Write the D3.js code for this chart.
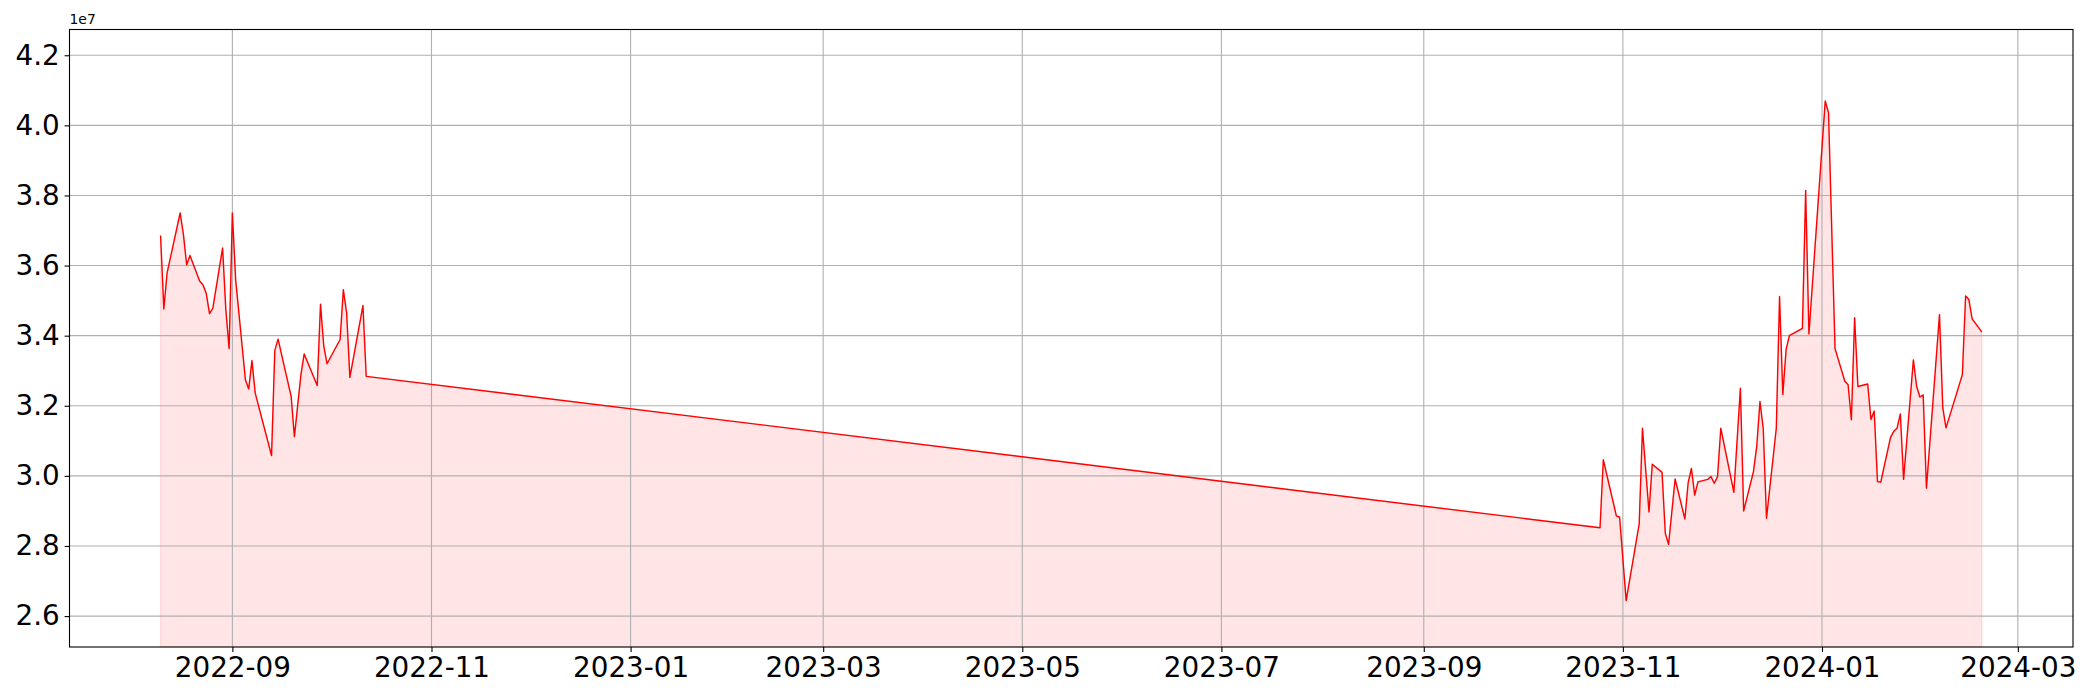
<!DOCTYPE html>
<html>
<head>
<meta charset="utf-8">
<script src="https://cdn.jsdelivr.net/npm/d3@7"></script>
<style>
  html, body { margin: 0; padding: 0; background: #fff; }
  svg { display: block; }
  text { font-family: "DejaVu Sans", sans-serif; fill: #000; }
</style>
</head>
<body>
<svg id="chart" width="2100" height="700"></svg>
<script>
// ---- data ----
const dates = [
  "2022-08-10","2022-08-11","2022-08-12","2022-08-16","2022-08-17","2022-08-18","2022-08-19",
  "2022-08-22","2022-08-23","2022-08-24","2022-08-25","2022-08-26","2022-08-29","2022-08-30",
  "2022-08-31","2022-09-01","2022-09-02","2022-09-05","2022-09-06","2022-09-07","2022-09-08",
  "2022-09-13","2022-09-14","2022-09-15","2022-09-19","2022-09-20","2022-09-22","2022-09-23",
  "2022-09-27","2022-09-28","2022-09-29","2022-09-30","2022-10-04","2022-10-05","2022-10-06",
  "2022-10-07","2022-10-11","2022-10-12",
  "2023-10-25","2023-10-26","2023-10-30","2023-10-31","2023-11-02","2023-11-06","2023-11-07",
  "2023-11-09","2023-11-10","2023-11-13","2023-11-14","2023-11-15","2023-11-17","2023-11-20",
  "2023-11-21","2023-11-22","2023-11-23","2023-11-24","2023-11-27","2023-11-28","2023-11-29",
  "2023-11-30","2023-12-01","2023-12-05","2023-12-07","2023-12-08","2023-12-11","2023-12-12",
  "2023-12-13","2023-12-14","2023-12-15","2023-12-18","2023-12-19","2023-12-20","2023-12-21",
  "2023-12-22","2023-12-26","2023-12-27","2023-12-28","2024-01-02","2024-01-03","2024-01-05",
  "2024-01-08","2024-01-09","2024-01-10","2024-01-11","2024-01-12","2024-01-15","2024-01-16",
  "2024-01-17","2024-01-18","2024-01-19","2024-01-22","2024-01-23","2024-01-24","2024-01-25",
  "2024-01-26","2024-01-29","2024-01-30","2024-01-31","2024-02-01","2024-02-02","2024-02-06",
  "2024-02-07","2024-02-08","2024-02-13","2024-02-14","2024-02-15","2024-02-16","2024-02-19"
];
const values = [
  36860000,34760000,35790000,37500000,36890000,36020000,36290000,
  35550000,35450000,35200000,34630000,34780000,36500000,34740000,
  33630000,37500000,35600000,32740000,32480000,33290000,32360000,
  30580000,33580000,33900000,32270000,31120000,32890000,33480000,
  32580000,34900000,33700000,33200000,33890000,35310000,34650000,
  32810000,34860000,32840000,
  28520000,30460000,28860000,28820000,26440000,28630000,31360000,
  28970000,30330000,30100000,28360000,28050000,29910000,28770000,
  29810000,30210000,29450000,29830000,29900000,29980000,29790000,
  29980000,31360000,29530000,32500000,29000000,30120000,30840000,
  32120000,31350000,28790000,31360000,35120000,32320000,33600000,
  34000000,34210000,38140000,34050000,40700000,40360000,33630000,
  32700000,32600000,31600000,34510000,32550000,32620000,31610000,
  31850000,29840000,29820000,31100000,31270000,31360000,31770000,
  29900000,33310000,32550000,32250000,32310000,29650000,34600000,
  31950000,31370000,32890000,35130000,35030000,34480000,34100000
];
const yTickValues = [26000000,28000000,30000000,32000000,34000000,36000000,38000000,40000000,42000000];
const yTickLabels = ["2.6","2.8","3.0","3.2","3.4","3.6","3.8","4.0","4.2"];
const xTickLabels = ["2022-09","2022-11","2023-01","2023-03","2023-05","2023-07","2023-09","2023-11","2024-01","2024-03"];
const offsetLabel = "1e7";

// ---- layout ----
const L = 69.5, R = 2073, T = 29.5, B = 647;
const tickLen = 4.9, tickPad = 4.9, fontSize = 27.8;

const parse = d3.utcParse("%Y-%m-%d");
const data = dates.map((d, i) => ({ date: parse(d), value: values[i] }));

const xExt = d3.extent(data, d => d.date);
const span = xExt[1] - xExt[0];
const x = d3.scaleUtc()
  .domain([new Date(+xExt[0] - span * 0.05), new Date(+xExt[1] + span * 0.05)])
  .range([L, R]);

const yMin = d3.min(values) * 0.95, yMax = d3.max(values) * 1.05;
const y = d3.scaleLinear().domain([yMin, yMax]).range([B, T]);

const svg = d3.select("#chart");

// fill
const area = d3.area().x(d => x(d.date)).y0(y(yMin)).y1(d => y(d.value));
svg.append("path").datum(data)
  .attr("d", area)
  .attr("fill", "rgba(255,0,0,0.1)")
  .attr("stroke", "rgba(255,0,0,0.1)")
  .attr("stroke-width", 1.4);

// grid
const xTicks = xTickLabels.map(s => d3.utcParse("%Y-%m")(s));
const grid = svg.append("g").attr("stroke", "#b0b0b0").attr("stroke-width", 1.1);
grid.selectAll("line.gx").data(xTicks).join("line")
  .attr("x1", d => x(d)).attr("x2", d => x(d)).attr("y1", T).attr("y2", B);
grid.selectAll("line.gy").data(yTickValues).join("line")
  .attr("x1", L).attr("x2", R).attr("y1", d => y(d)).attr("y2", d => y(d));

// line
const line = d3.line().x(d => x(d.date)).y(d => y(d.value));
svg.append("path").datum(data)
  .attr("d", line)
  .attr("fill", "none")
  .attr("stroke", "#ff0000")
  .attr("stroke-width", 1.4)
  .attr("stroke-linejoin", "round");

// axes
const xAxis = d3.axisBottom(x).tickValues(xTicks)
  .tickFormat((d, i) => xTickLabels[i]).tickSize(tickLen).tickPadding(tickPad);
const yAxis = d3.axisLeft(y).tickValues(yTickValues)
  .tickFormat((d, i) => yTickLabels[i]).tickSize(tickLen).tickPadding(tickPad);

const gx = svg.append("g").attr("transform", `translate(0,${B})`).call(xAxis);
const gy = svg.append("g").attr("transform", `translate(${L},0)`).call(yAxis);
[gx, gy].forEach(g => {
  g.select(".domain").remove();
  g.selectAll(".tick line").attr("stroke", "#000").attr("stroke-width", 1.1);
  g.selectAll(".tick text").attr("font-size", fontSize)
    .attr("font-family", "DejaVu Sans").attr("fill", "#000");
});

// spines
svg.append("rect").attr("x", L).attr("y", T).attr("width", R - L).attr("height", B - T)
  .attr("fill", "none").attr("stroke", "#000").attr("stroke-width", 1.1);

// offset text
svg.append("text").attr("x", L).attr("y", T - 6)
  .attr("font-size", 13.9).text(offsetLabel);
</script>
</body>
</html>
